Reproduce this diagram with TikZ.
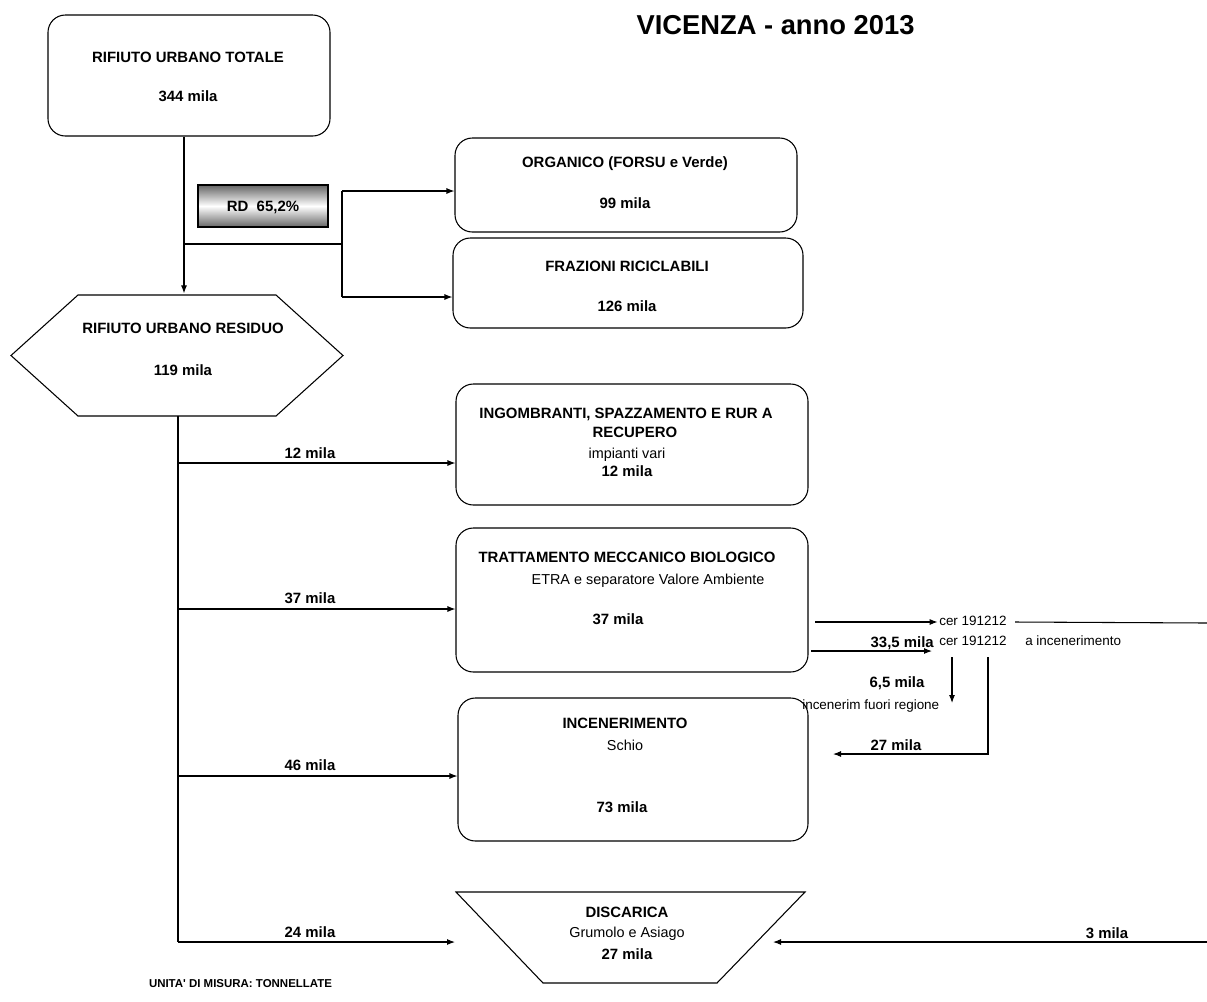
\documentclass[tikz,border=0pt]{standalone}
\usepackage{fontspec}
\setmainfont{Liberation Sans}
\newfontfamily\plainsansfont{Liberation Sans}
\usetikzlibrary{arrows.meta}
\begin{document}
\begin{tikzpicture}[x=0.75pt,y=-0.75pt,
  box/.style={draw, line width=0.8pt, rounded corners=13pt, inner sep=0pt},
  bt/.style={font=\fontsize{11.2}{13}\selectfont\bfseries, inner sep=0pt, text height=8pt, text depth=0pt},
  rt/.style={font=\fontsize{10.8}{12}\selectfont, inner sep=0pt, text height=7.7pt, text depth=0pt},
  st/.style={font=\fontsize{10.1}{12}\selectfont, inner sep=0pt, text height=7.2pt, text depth=0pt},
  arr/.style={-{Latex[length=6pt,width=4.5pt]}, line width=0.8pt},
  ln/.style={line width=0.8pt}]
\useasboundingbox (0,0) rectangle (1207,1001);

% title
\node[font=\fontsize{20.5}{24}\selectfont\bfseries, inner sep=0pt, text height=14.7pt, text depth=0pt] (title) at (775.5,25) {VICENZA - anno 2013};

% boxes
\node[box, minimum width=282*0.75pt, minimum height=121*0.75pt] (tot) at (189,75.5) {};
\node[bt] (totA) at (188,57) {RIFIUTO URBANO TOTALE};
\node[bt] (totB) at (188,96) {344 mila};

\node[draw, line width=0.8pt, inner sep=0pt, minimum width=130*0.75pt, minimum height=42*0.75pt,
      top color=black!60, bottom color=black!60, middle color=white] (rd) at (263,206) {};
\node[bt] (rdt) at (263,206) {RD\ \ 65,2\%};

\node[box, minimum width=342*0.75pt, minimum height=94*0.75pt] (org) at (626,185) {};
\node[bt] (orgA) at (625,162) {ORGANICO (FORSU e Verde)};
\node[bt] (orgB) at (625,203) {99 mila};

\node[box, minimum width=350*0.75pt, minimum height=90*0.75pt] (fraz) at (628,283) {};
\node[bt] (frazA) at (627,266) {FRAZIONI RICICLABILI};
\node[bt] (frazB) at (627,306) {126 mila};

% hexagon
\draw[ln] (11,355.5) -- (78,295) -- (276,295) -- (343,355.5) -- (276,416) -- (78,416) -- cycle;
\node[inner sep=0pt, minimum width=332*0.75pt, minimum height=121*0.75pt] (res) at (177,355.5) {};
\node[bt] (resA) at (183,328) {RIFIUTO URBANO RESIDUO};
\node[bt] (resB) at (183,370) {119 mila};

\node[box, minimum width=352*0.75pt, minimum height=121*0.75pt] (ingo) at (632,444.5) {};
\node[bt] (ingoA) at (626,413) {INGOMBRANTI, SPAZZAMENTO E RUR A};
\node[bt] (ingoB) at (635,432) {RECUPERO};
\node[rt] (ingoC) at (627,453) {impianti vari};
\node[bt] (ingoD) at (627,471) {12 mila};

\node[box, minimum width=352*0.75pt, minimum height=144*0.75pt] (tmb) at (632,600) {};
\node[bt] (tmbA) at (627,557) {TRATTAMENTO MECCANICO BIOLOGICO};
\node[rt] (tmbB) at (648,579) {ETRA e separatore Valore Ambiente};
\node[bt] (tmbC) at (618,619) {37 mila};

\node[box, minimum width=350*0.75pt, minimum height=143*0.75pt] (inc) at (633,769.5) {};
\node[bt] (incA) at (625,723) {INCENERIMENTO};
\node[rt] (incB) at (625,745) {Schio};
\node[bt] (incC) at (622,807) {73 mila};

% trapezoid
\draw[ln] (456,892) -- (805,892) -- (717,983) -- (543,983) -- cycle;
\node[inner sep=0pt, minimum width=349*0.75pt, minimum height=91*0.75pt] (disc) at (630.5,937.5) {};
\node[bt] (discA) at (627,912) {DISCARICA};
\node[rt] (discB) at (627,932) {Grumolo e Asiago};
\node[bt] (discC) at (627,954) {27 mila};

% upper connectors
\coordinate (j1) at (184,244);
\coordinate (j2) at (342,244);
\coordinate (o1) at (342,191);
\coordinate (f1) at (342,297);
\draw[arr] (j1 |- tot.south) -- ([yshift=1pt]j1 |- res.north);
\draw[ln] (j1) -- (j2);
\draw[ln] (o1) -- (f1);
\draw[arr] (o1) -- (o1 -| org.west);
\draw[arr] (f1) -- (f1 -| fraz.west);

% trunk
\coordinate (k0) at (178,416);
\coordinate (k1) at (178,463);
\coordinate (k2) at (178,609);
\coordinate (k3) at (178,776);
\coordinate (k4) at (178,942);
\coordinate (dL) at (455,942);
\draw[ln] (k0) -- (k4);
\draw[arr] (k1) -- (k1 -| ingo.west);
\draw[arr] (k2) -- (k2 -| tmb.west);
\draw[arr] (k3) -- (k3 -| inc.west);
\draw[arr] (k4) -- (dL);
\node[bt] (l1) at (310,453) {12 mila};
\node[bt] (l2) at (310,598) {37 mila};
\node[bt] (l3) at (310,765) {46 mila};
\node[bt] (l4) at (310,932) {24 mila};

% right side
\node[st, anchor=west] (cer1) at (939,621) {cer 191212};
\coordinate (r1) at (815,622);
\coordinate (rE) at (1207,623);
\draw[arr] (r1) -- ([xshift=-1pt]cer1.west |- r1);
\draw[ln] (1015,622) -- (rE);

\node[st, anchor=west] (cer2) at (939,641) {cer 191212};
\node[st, anchor=west] (ainc) at (1025,641) {a incenerimento};
\node[bt, anchor=east] (l335) at (934,642) {33,5 mila};
\coordinate (r2) at (811,651);
\coordinate (r2e) at (932,651);
\draw[arr] (r2) -- (r2e);

\coordinate (d1) at (952,657);
\coordinate (d2) at (952,703);
\draw[arr] (d1) -- (d2);
\node[bt] (l65) at (897,682) {6,5 mila};
\node[st, anchor=west] (fuori) at (802,705) {incenerim fuori regione};

\coordinate (e1) at (988,657);
\coordinate (e2) at (988,754);
\coordinate (e3) at (833,754);
\draw[arr] (e1) -- (e2) -- (e3);
\node[bt] (l27) at (896,745) {27 mila};

\coordinate (g1) at (1207,942);
\coordinate (g2) at (773,942);
\draw[arr] (g1) -- (g2);
\node[bt] (l3m) at (1107,933) {3 mila};

% units
\node[font=\plainsansfont\fontsize{8.6}{10}\selectfont\bfseries, inner sep=0pt, text height=6.2pt, text depth=0pt] (units) at (240.5,983) {UNITA' DI MISURA: TONNELLATE};
\end{tikzpicture}
\end{document}
